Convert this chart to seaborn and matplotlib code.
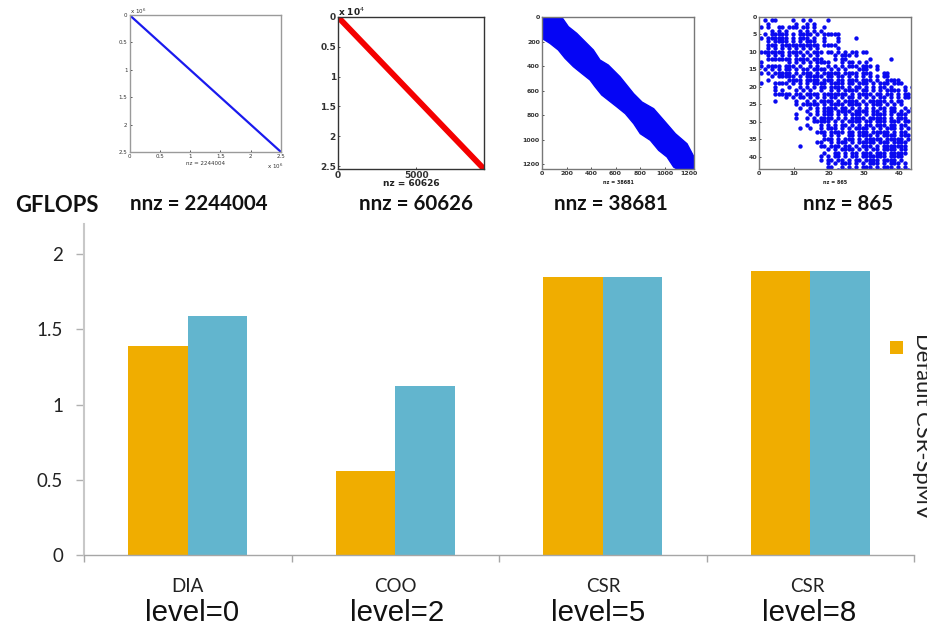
#!/usr/bin/env python3
"""GFLOPS per matrix, with the sparsity pattern of each matrix above its bars."""

import matplotlib

matplotlib.use("Agg")
import matplotlib.pyplot as plt
import pandas as pd
import seaborn as sns
from matplotlib.patches import Rectangle

W, H = 927, 635

levels = ["level=0", "level=2", "level=5", "level=8"]
formats = ["DIA", "COO", "CSR", "CSR"]
default_gflops = [1.39, 0.56, 1.85, 1.89]
tuned_gflops = [1.59, 1.12, 1.85, 1.89]
y_ticks = [0, 0.5, 1, 1.5, 2]
y_tick_labels = ["0", "0.5", "1", "1.5", "2"]
nnz_labels = ["nnz = 2244004", "nnz = 60626", "nnz = 38681", "nnz = 865"]

diag1_x = [0, 2.5]
diag1_y = [0, 2.5]
diag2_x = [0, 9300]
diag2_y = [0, 25500]

# outline of the third matrix's band, read along its two edges
band_top_x = [0, 160, 215, 283, 351, 419, 473, 541, 636, 748, 816, 911, 1006, 1088, 1183, 1240, 1240]
band_top_y = [0, 0, 79, 133, 201, 269, 351, 392, 487, 626, 694, 748, 857, 952, 1034, 1142, 1240]
band_low_x = [1101, 1074, 1020, 952, 884, 802, 748, 680, 612, 487, 433, 392, 324, 256, 188, 133, 65, 0]
band_low_y = [1240, 1224, 1142, 1088, 1006, 952, 870, 789, 734, 636, 569, 514, 460, 405, 337, 269, 215, 174]

# nonzeros of the fourth matrix, one string per row
pattern = [
    ".#.##....#..#.#....#",
    "..#.......#..#.#",
    "#.#..##.###.##.#..#",
    "...#.#.#...#.#.#.#",
    ".#.#####.#.####.#.#####",
    "#.######.#.###.#..#...#....#",
    "..#.####.#.#.###..#...#",
    "..###.###########.####",
    "..#.#.#.#.#.#.#.#.....#",
    "#######.####.#.###.##.#.#.##.##",
    "..#.#.#.#.#.#.#.#....#.###.#",
    "..#######.####.###...#.##......#.....#",
    "#.......#.#.#.#.####...#.##.#.#..",
    "#.####.###.#..#.#..#.#.#.###.###.#",
    ".#.#.#.##.#.##.####.#.#.#...###..#",
    "#.#.#####.#.###.#.#####.####.###...##",
    "...#.#####.#.#####.##.##.#.#.#.#.#.##",
    "..#.....####.####.###.##.###.###.#..####",
    "#...####.#.#.#.####.####.##.###.#.###.###",
    "....#...#..#.#.#.##.####.#.##.#.#.##.#...#.#",
    "....#.#...#.#.#..#..#.#.####.##.#.#.####.#",
    "....#####.##.####.#######.#.####.##.##.#.##",
    ".......#.#.##.#.#.#.##.#.##.#.#.#.##.#.#.##",
    "....#.....#..#.#.####.#.####.#.#####.#.##",
    "..........#.#####.#.####.####.#.###.#.#.#.",
    "...........#..#.#.####.##.#.#.#.#.##.##..#.#",
    ".............#..#.###.####.####.##.#.##.#.#",
    "..........#...#.#.###.#.#.###.#.####.#.###.",
    "..........#..#.#.####.#.#.####.#####.#.###.",
    "...............#####.#.#.####.##.###.###.##",
    ".............#...#.#.#.##.#.#.##.###.##.##.",
    "...........#..#..#.###.#.#.####.#.#.###.#.#",
    "................###.####.##.###.#####.#.##",
    "..................#.#.#..##.####.#.####.###",
    "..................###.#.###.#.#####.#####.#",
    "................##..#.###.#.#####.###.####.",
    "...........#.....##.###.##.#.###.#.#######",
    "...................#.#.####.#.#.##.####.##.",
    "..................#..##.#.##.###.###.#####",
    ".................#.#.##.#.##.#######.####.",
    ".................#.##.##.#.##.####.####.#.",
    "...................#.#.###.#.#.###.#.###.#",
    "...................##..#.#.#.###.#.###.#.#",
    "......................#.#.##.#.##.##.##.#.#",
]


def px_rect(left, top, right, bottom):
    return [left / W, 1 - bottom / H, (right - left) / W, (bottom - top) / H]


def spy_axes(fig, rect, xlim, ylim, xticks, yticks, xlabels, ylabels, frame, size, weight="normal"):
    ax = fig.add_axes(px_rect(*rect))
    ax.set_xlim(*xlim)
    ax.set_ylim(*ylim)
    ax.set_xticks(xticks, xlabels)
    ax.set_yticks(yticks, ylabels)
    ax.tick_params(length=1.5, width=0.6, pad=1.5, labelsize=size, colors="#333333", direction="in", bottom=True, left=True)
    for lab in ax.get_xticklabels() + ax.get_yticklabels():
        lab.set_fontfamily("DejaVu Sans")
        lab.set_fontweight(weight)
    for spine in ax.spines.values():
        spine.set_visible(True)
        spine.set_color(frame)
        spine.set_linewidth(1.0)
    return ax


def main():
    sns.set_theme(style="white")
    plt.rcParams["font.family"] = ["Lato", "DejaVu Sans"]

    df = pd.DataFrame({
        "level": levels * 2,
        "gflops": default_gflops + tuned_gflops,
        "series": ["Default CSR-SpMV"] * 4 + ["Other"] * 4,
    })

    fig = plt.figure(figsize=(W / 100, H / 100), dpi=100)
    ax = fig.add_axes(px_rect(84, 224, 914, 555))
    sns.barplot(
        data=df, x="level", y="gflops", hue="series", ax=ax, width=0.573, gap=0,
        palette=["#F0AD00", "#62B5CE"], saturation=1, legend=False, linewidth=0,
    )
    ax.set_xlim(-0.5, 3.5)
    ax.set_ylim(0, 2.2)
    ax.set_xlabel("")
    ax.set_ylabel("")
    ax.set_xticks([-0.5, 0.5, 1.5, 2.5, 3.5], [""] * 5)
    ax.set_yticks(y_ticks, y_tick_labels)
    ax.tick_params(axis="x", bottom=True, length=5, width=1, color="#a6a6a6")
    ax.tick_params(axis="y", left=True, length=6, width=1, color="#b0b0b0", labelsize=13.5, labelcolor="#222222", pad=9)
    sns.despine(ax=ax)
    ax.spines["left"].set_color("#c8c8c8")
    ax.spines["left"].set_linewidth(1.5)
    ax.spines["bottom"].set_color("#a6a6a6")
    ax.spines["bottom"].set_linewidth(1.0)

    for name, level, xf, xl in zip(formats, levels, [187, 395, 603, 807], [192, 397, 598, 809]):
        fig.text(xf / W, 1 - 586 / H, name, ha="center", va="center", fontsize=13.5, color="#222222")
        fig.text(xl / W, 1 - 613 / H, level, ha="center", va="center", fontsize=21.2,
                 family=["Liberation Sans"], color="#111111")

    fig.text(15 / W, 1 - 205 / H, "GFLOPS", ha="left", va="center", fontsize=15.8, fontweight="bold", color="#111111")
    for label, xc in zip(nnz_labels, [199, 416, 611, 848]):
        fig.text(xc / W, 1 - 204 / H, label, ha="center", va="center", fontsize=14.8, fontweight="bold", color="#111111")

    fig.add_artist(Rectangle((890 / W, 1 - 354 / H), 13 / W, 13 / H, transform=fig.transFigure,
                             facecolor="#F0AD00", edgecolor="none"))
    fig.text(922 / W, 1 - 333 / H, "Default CSR-SpMV", rotation=270, ha="center", va="top",
             fontsize=15.8, color="#222222")

    # matrix 1
    a1 = spy_axes(fig, (129.5, 15, 281, 152), (0, 2.5), (2.5, 0),
                  [0, 0.5, 1, 1.5, 2, 2.5], [0, 0.5, 1, 1.5, 2, 2.5],
                  ["0", "0.5", "1", "1.5", "2", "2.5"], ["0", "0.5", "1", "1.5", "2", "2.5"],
                  "#9a9a9a", 4)
    sns.lineplot(x=diag1_x, y=diag1_y, ax=a1, color="#1a1aee", linewidth=1.6, sort=False, estimator=None)
    fig.text(130 / W, 1 - 11 / H, "x 10$^6$", fontsize=4, ha="left", va="center", color="#333333", family=["DejaVu Sans"])
    fig.text(267 / W, 1 - 166 / H, "x 10$^6$", fontsize=4, ha="left", va="center", color="#333333", family=["DejaVu Sans"])
    fig.text(205 / W, 1 - 164 / H, "nz = 2244004", fontsize=4, ha="center", va="center", color="#333333", family=["DejaVu Sans"])

    # matrix 2
    a2 = spy_axes(fig, (338, 17, 484, 169), (0, 9300), (25500, 0),
                  [0, 5000], [0, 5000, 10000, 15000, 20000, 25000],
                  ["0", "5000"], ["0", "0.5", "1", "1.5", "2", "2.5"],
                  "#333333", 6.5, weight="bold")
    sns.lineplot(x=diag2_x, y=diag2_y, ax=a2, color="#f40000", linewidth=4.2, sort=False, estimator=None)
    fig.text(338 / W, 1 - 12 / H, "x 10$^4$", fontsize=6.5, ha="left", va="center", color="#222222",
             fontweight="bold", family=["DejaVu Sans"])
    fig.text(411 / W, 1 - 183 / H, "nz = 60626", fontsize=6.5, ha="center", va="center", color="#222222",
             fontweight="bold", family=["DejaVu Sans"])

    # matrix 3
    a3 = spy_axes(fig, (542, 17, 694, 169), (0, 1240), (1240, 0),
                  [0, 200, 400, 600, 800, 1000, 1200], [0, 200, 400, 600, 800, 1000, 1200],
                  ["0", "200", "400", "600", "800", "1000", "1200"],
                  ["0", "200", "400", "600", "800", "1000", "1200"],
                  "#777777", 4.5, weight="bold")
    a3.fill(band_top_x + band_low_x, band_top_y + band_low_y, color="#0505f5", linewidth=1.0)
    fig.text(618 / W, 1 - 182 / H, "nz = 38681", fontsize=3.5, ha="center", va="center", color="#222222",
             fontweight="bold", family=["DejaVu Sans"])

    # matrix 4
    a4 = spy_axes(fig, (759, 17, 911, 169), (0, 43.5), (43.5, 0),
                  [0, 10, 20, 30, 40], [0, 5, 10, 15, 20, 25, 30, 35, 40],
                  ["0", "10", "20", "30", "40"], ["0", "5", "10", "15", "20", "25", "30", "35", "40"],
                  "#777777", 4.5, weight="bold")
    cols, rows = [], []
    for r, line in enumerate(pattern):
        for c, ch in enumerate(line):
            if ch == "#":
                cols.append(c + 0.7)
                rows.append(r + 0.9)
    sns.scatterplot(x=cols, y=rows, ax=a4, color="#0a0af0", s=10, linewidth=0)
    fig.text(835 / W, 1 - 182 / H, "nz = 865", fontsize=3.5, ha="center", va="center", color="#222222",
             fontweight="bold", family=["DejaVu Sans"])

    fig.savefig("out.png", dpi=100)


if __name__ == "__main__":
    main()
